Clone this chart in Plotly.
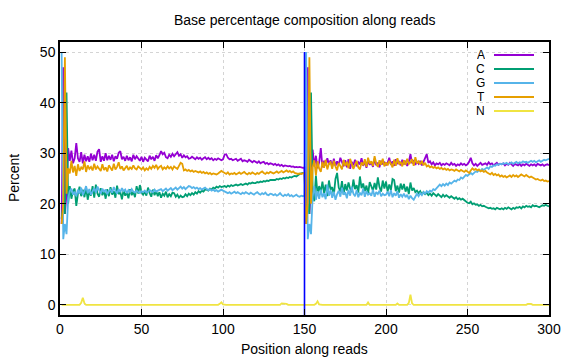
import plotly.graph_objects as go

# ---------------- data ----------------
POSITIONS = list(range(1, 301))

A_PCT = [
    16, 47, 18, 22, 31, 28.5, 30.5, 28, 29, 32,
    29, 28.3, 30.2, 28, 29.7, 28.4, 29.4, 28.3, 29.9, 28.6,
    29.7, 28.5, 30.3, 30.8, 28.3, 29.4, 28.5, 30, 28.6, 29.5,
    28.7, 29.7, 28.4, 29.4, 28.9, 30.1, 30.4, 28.8, 29.3, 28.5,
    29.5, 28.6, 29.2, 28.4, 29.7, 28.8, 29.4, 28.9, 28.5, 29.3,
    28.3, 29.1, 28.7, 28.4, 29.5, 28.8, 29.3, 28.5, 29.6, 29,
    29.6, 30.4, 29.8, 30.1, 29.2, 29, 29.7, 29.3, 29.9, 29.4,
    29.8, 30.2, 29.5, 29.8, 29.1, 29.6, 29.2, 29.4, 28.9, 29,
    29.3, 29, 28.8, 29.2, 28.9, 29.1, 28.7, 29, 29.2, 28.8,
    29.1, 28.8, 29, 28.6, 28.9, 28.7, 29, 28.8, 28.6, 28.8,
    29.7, 29.8, 29.1, 28.8, 28.9, 28.6, 28.7, 28.9, 28.5, 28.7,
    28.9, 28.4, 28.6, 28.5, 28.3, 28.7, 28.4, 28.2, 28.5, 28.3,
    28.1, 28.4, 28, 28.2, 28.3, 27.9, 28.1, 27.8, 28, 27.9,
    27.7, 27.9, 27.6, 27.8, 27.5, 27.7, 27.4, 27.6, 27.5, 27.4,
    27.5, 27.3, 27.4, 27.2, 27.3, 27.2, 27.3, 27.2, 27.1, 27.2,
    16, 47, 18, 24, 30.7, 27.4, 29.5, 27, 28.2, 31,
    27.2, 28.5, 27.6, 29, 27.8, 28.6, 27.3, 28.9, 27.5, 28.4,
    27.7, 29.1, 28, 27.4, 28.6, 27.2, 28.8, 26.9, 28.3, 27.6,
    28.7, 27.4, 28.2, 27.8, 29, 27.5, 28.4, 27.1, 28.6, 27.7,
    28.2, 27.3, 28.9, 27.6, 28.1, 27.2, 28.5, 27.8, 28.3, 27.6,
    28.1, 29.1, 27.7, 28.4, 27.5, 28.8, 27.9, 28.3, 27.6, 28.7,
    27.8, 28.5, 27.5, 28.3, 29.8, 28, 28.6, 27.7, 28.4, 27.9,
    28.5, 27.6, 28.3, 28.9, 29.8, 28.1, 28.4, 27.8, 28.2, 27.6,
    28, 27.8, 28.1, 27.6, 27.9, 27.7, 28, 27.8, 27.6, 28.1,
    27.7, 27.9, 27.5, 27.8, 27.6, 28, 27.7, 27.9, 27.6, 27.8,
    28.3, 29.1, 28, 27.6, 27.9, 27.5, 27.8, 28.1, 27.7, 27.9,
    28, 27.7, 28.2, 27.8, 28, 27.6, 27.9, 28.1, 27.7, 27.9,
    27.8, 28, 27.6, 27.9, 27.7, 28.1, 27.8, 27.5, 27.9, 27.7,
    27.6, 27.9, 27.5, 27.8, 27.6, 27.9, 27.7, 27.5, 27.8, 27.6,
    27.8, 27.5, 27.9, 27.7, 27.6, 27.8, 27.5, 27.7, 27.8, 27.6,
]

C_PCT = [
    17, 20, 18, 42, 20, 23.5, 21, 22.5, 23, 19.6,
    22, 23.4, 21.5, 22.8, 21.3, 23.2, 20.8, 22.4, 21.6, 23.5,
    21.2, 23.8, 22, 21.4, 23.1, 21.7, 22.6, 21, 22.9, 21.5,
    23.3, 21.8, 22.5, 21.2, 23.6, 21.9, 22.3, 20.9, 22.7, 21.6,
    22.2, 21.1, 22.9, 21.7, 22.4, 21.3, 23.5, 22, 23.7, 22.3,
    21.8, 22.4, 21.6, 23.2, 22.1, 21.4, 22.8, 21.7, 22.5, 21.5,
    22.3, 21.2, 22, 21.6, 22.4, 21.3, 21.9, 21.5, 22.2, 22.1,
    21.4, 21.8, 21.2, 21.6, 21.3, 21.4, 21.9, 21.5, 22, 21.7,
    22.1, 21.8, 22.3, 22, 22.5, 22.2, 22.6, 22.4, 22.8, 22.8,
    22.6, 23, 22.8, 23.2, 23, 23.4, 23.2, 23.5, 23.3, 23.4,
    23.5, 23.3, 23.6, 23.4, 23.7, 23.5, 23.6, 23.8, 23.6, 23.7,
    23.9, 23.7, 23.9, 24, 23.8, 24.1, 24, 24.2, 24.1, 24.1,
    24.3, 24.2, 24.4, 24.3, 24.5, 24.4, 24.6, 24.5, 24.7, 24.7,
    24.8, 24.7, 24.9, 24.8, 25, 24.9, 25.1, 25, 25.2, 25.1,
    25.3, 25.2, 25.4, 25.5, 25.4, 25.7, 25.9, 26, 26.1, 26,
    17, 20, 18, 42, 22.7, 20.5, 25.6, 21.9, 23.5, 22.3,
    24.4, 22.1, 23.8, 21.5, 24.6, 22.8, 23.3, 21.7, 24.9, 26.1,
    23.2, 22.4, 24.5, 21.8, 23.9, 22.6, 24.2, 23, 22.3, 24.8,
    22.9, 23.7, 22.2, 25.4, 23.1, 24, 22.5, 23.6, 21.9, 24.3,
    23.4, 22.6, 24.1, 22.8, 25.2, 23.3, 22.4, 24.6, 23, 24.4,
    22.4, 23.8, 22.7, 24.9, 24.7, 22.5, 23.6, 22.2, 24, 22.8,
    23.9, 22.4, 23.4, 21.9, 24.2, 22.6, 23.1, 22.3, 22.6, 22.1,
    22.5, 21.8, 22.3, 21.9, 22.2, 21.7, 22, 21.6, 22.1, 21.8,
    21.5, 21.9, 21.6, 21.3, 21.8, 21.4, 21.7, 21.4, 21.2, 21.5,
    21.2, 21, 21.3, 20.9, 21.1, 20.8, 21, 20.7, 20.6, 20.2,
    20.1, 20.4, 19.9, 20.1, 19.8, 19.9, 19.6, 19.8, 19.5, 19.6,
    19.4, 19.3, 19.1, 19.2, 19, 19.1, 18.9, 19.2, 19, 18.9,
    19.1, 18.9, 19.2, 19, 19.3, 19.1, 18.9, 19.2, 19, 19.3,
    19.2, 19.4, 19.1, 19.5, 19.3, 19.6, 19.4, 19.5, 19.3, 19.7,
    19.5, 19.6, 19.4, 19.3, 19.5, 19.7, 19.6, 19.8, 19.6, 19.5,
]

G_PCT = [
    50, 13, 16, 14, 21, 22.5, 23, 21.8, 22.4, 21.5,
    22.8, 22, 23.2, 21.7, 22.5, 23.5, 22.1, 22.9, 21.8, 22.6,
    23.1, 22.2, 23.4, 22.7, 22, 23, 22.4, 22.8, 21.9, 22.5,
    22.8, 22.2, 23.3, 22.6, 22, 22.9, 22.3, 23.1, 22.5, 22.8,
    22.1, 22.7, 22.3, 22.9, 22.4, 22.2, 22.6, 22.3, 22.1, 22.5,
    22.3, 22.6, 22.2, 22.4, 22.7, 22.5, 22.3, 22.8, 22.4, 22.6,
    22.7, 22.9, 22.5, 22.8, 23, 22.6, 22.9, 23.1, 22.7, 23,
    23.2, 22.8, 23.1, 23.4, 23, 23.3, 22.9, 23.2, 23.5, 23.4,
    23.1, 23.3, 23, 23.2, 22.9, 23.1, 22.8, 23, 23.2, 22.9,
    22.7, 22.9, 22.6, 22.8, 22.5, 22.7, 22.4, 22.6, 22.8, 22.6,
    22.4, 22.2, 22.1, 22.3, 22, 22.2, 22.4, 22.1, 22.3, 22.1,
    21.9, 22.2, 22, 22.3, 22.1, 21.9, 22.2, 22, 21.8, 22.1,
    22.3, 22, 21.8, 22.1, 21.9, 22.2, 21.8, 21.7, 22, 21.9,
    21.7, 21.9, 21.6, 21.8, 22.1, 21.7, 21.5, 21.8, 21.6, 21.9,
    21.5, 21.7, 21.4, 21.6, 21.8, 21.5, 21.4, 21.6, 21.5, 21.6,
    50, 13, 16, 14, 21.4, 23.5, 20.8, 22.5, 21, 22.8,
    21.3, 22.1, 20.9, 23.8, 21.6, 22.7, 21.2, 22.4, 20.8, 21.9,
    22.6, 21.4, 23.2, 21.8, 22.3, 21.1, 22.8, 21.6, 23.4, 22,
    21.5, 22.7, 21.3, 22.2, 21.7, 23, 21.4, 22.5, 21.8, 22.1,
    21.6, 22.8, 21.4, 22.3, 21.9, 22.6, 21.5, 22, 21.7, 21.8,
    22.4, 21.5, 22.7, 21.3, 22.1, 21.6, 22.5, 21.2, 21.9, 21.4,
    22, 21.3, 21.8, 20.9, 21.6, 21.1, 20.8, 21.4, 22, 21.5,
    22.1, 21.7, 22.3, 22, 22.5, 22.2, 22.6, 22.4, 22.9, 22.7,
    23.1, 23.4, 23.8, 23.5, 23.9, 23.6, 24, 23.7, 24.2, 24,
    24.3, 24.6, 24.4, 24.8, 24.7, 25.2, 25, 25.4, 25.7, 25.5,
    25.9, 26.1, 25.8, 26.2, 26.4, 26.3, 26.6, 26.5, 26.9, 26.7,
    27, 27.2, 26.9, 27.4, 27.3, 27.6, 27.5, 27.8, 27.7, 27.9,
    27.8, 28, 27.9, 28.1, 27.8, 28, 28.2, 27.9, 28.1, 28.3,
    28, 28.2, 28.1, 28.4, 28.2, 28.3, 28.1, 28.4, 28.5, 28.3,
    28.5, 28.2, 28.4, 28.6, 28.3, 28.5, 28.7, 28.6, 28.8, 28.9,
]

T_PCT = [
    16, 20, 49, 22, 27, 26, 28.5, 26.2, 27.5, 25.5,
    27.8, 26.5, 27.2, 26.8, 28.4, 26.3, 27.6, 26.9, 27.3, 26.6,
    27.9, 26.8, 27.4, 27, 26.5, 27.8, 26.7, 27.2, 26.4, 27.6,
    27, 26.6, 27.9, 26.8, 27.3, 28.2, 26.9, 27.4, 26.6, 27.1,
    27.5, 26.7, 27.2, 26.9, 27.6, 27, 26.8, 27.4, 27.1, 26.8,
    27.2, 26.6, 27, 26.7, 27.3, 26.9, 27.5, 27.1, 27.7, 26.9,
    27.3, 27.5, 26.8, 27.2, 26.9, 27.4, 27, 27.3, 26.8, 27.4,
    27.1, 26.9, 27.5, 28.1, 27.9, 26.6, 26.8, 26.5, 26.7, 26.4,
    26.6, 26.3, 26.5, 26.4, 26.2, 26.4, 26.1, 26.3, 26, 26.2,
    25.9, 26.1, 25.8, 26, 25.9, 25.8, 26, 26.2, 26.5, 26.3,
    26.1, 25.9, 26.2, 25.8, 26, 25.9, 26.1, 25.8, 26, 26.2,
    25.9, 26.1, 26.3, 26, 25.8, 26.1, 25.9, 26.2, 26, 25.8,
    26.1, 25.9, 26.2, 26.4, 26.1, 25.9, 26.2, 26, 26.3, 26.1,
    26, 26.2, 26.4, 26.1, 26.3, 26.5, 26.2, 26.4, 26.6, 26.3,
    26.5, 26.2, 26.4, 26.1, 26, 25.9, 26, 25.9, 26, 26.1,
    16, 20, 49, 20, 27.2, 28.6, 25.6, 28.4, 27, 26.3,
    28.3, 27.1, 28.7, 26.8, 27.9, 28.2, 26.9, 28.5, 27.4, 26.6,
    28.1, 27.3, 26.8, 28.7, 27.5, 28.3, 27, 28.9, 27.6, 26.9,
    27.7, 28.5, 27.2, 26.8, 28.2, 27.6, 28.8, 27.3, 29.1, 27.9,
    28.4, 27.5, 29.4, 28, 27.3, 28.6, 27.7, 28.9, 27.4, 28.2,
    27.6, 28.5, 27.9, 27.2, 28.7, 27.5, 29, 27.8, 28.3, 27.4,
    28.6, 27.7, 28.9, 27.9, 28.2, 28.8, 27.5, 29.2, 28, 28.4,
    27.8, 28.5, 27.6, 28.1, 27.4, 27.6, 27.2, 27.4, 27.1, 27.3,
    27, 27.2, 26.9, 27.1, 26.8, 27, 26.7, 26.9, 26.6, 26.8,
    26.7, 26.5, 26.8, 26.6, 26.4, 26.7, 26.5, 26.3, 26.6, 26.4,
    26.1, 26.6, 27, 26.7, 26.9, 26.6, 26.8, 26.4, 26.6, 26.3,
    26.5, 26.2, 26, 25.8, 26.1, 25.7, 25.9, 25.6, 25.8, 25.4,
    25.6, 25.3, 25.5, 25.2, 25.4, 25.6, 25.3, 25.7, 25.4, 25.6,
    25.3, 25.5, 25.8, 25.6, 25.4, 25.7, 25.5, 25.2, 25.4, 25.1,
    25, 24.8, 24.9, 24.7, 24.6, 24.8, 24.5, 24.6, 24.4, 24.5,
]

N_PCT = [
    0, 0, 0, 0, 0, 0, 0, 0, 0, 0,
    0, 0, 0.4, 1.4, 0.3, 0, 0, 0, 0, 0,
    0, 0, 0, 0, 0, 0, 0, 0, 0, 0,
    0, 0, 0, 0, 0, 0, 0, 0, 0, 0,
    0, 0, 0, 0, 0, 0, 0, 0, 0, 0,
    0, 0, 0, 0, 0, 0, 0, 0, 0, 0,
    0, 0, 0, 0, 0, 0, 0, 0, 0, 0,
    0, 0, 0, 0, 0, 0, 0, 0, 0, 0,
    0, 0, 0, 0, 0, 0, 0, 0, 0, 0,
    0, 0, 0, 0, 0, 0, 0, 0.2, 0.5, 0.1,
    0, 0, 0, 0, 0, 0, 0, 0, 0, 0,
    0, 0, 0, 0, 0, 0, 0, 0, 0, 0,
    0, 0, 0, 0, 0, 0, 0, 0, 0, 0,
    0, 0, 0, 0, 0, 0.3, 0.3, 0.3, 0.2, 0,
    0, 0, 0, 0, 0, 0, 0, 0, 0, 0,
    0, 0, 0, 0, 0, 0, 0.2, 0.7, 0.1, 0,
    0, 0, 0, 0, 0, 0, 0, 0, 0, 0,
    0, 0, 0, 0, 0, 0, 0, 0, 0, 0,
    0, 0, 0, 0, 0, 0, 0, 0, 0.5, 0,
    0, 0, 0, 0, 0, 0, 0, 0, 0, 0,
    0, 0, 0, 0, 0, 0, 0.3, 0, 0, 0,
    0, 0, 0, 0.4, 2.0, 0.3, 0, 0, 0, 0,
    0, 0, 0, 0, 0, 0, 0, 0, 0, 0,
    0, 0, 0, 0, 0, 0, 0, 0, 0, 0,
    0, 0, 0, 0, 0, 0, 0, 0, 0, 0,
    0, 0, 0, 0, 0, 0, 0, 0, 0, 0,
    0, 0, 0, 0, 0, 0, 0, 0, 0, 0,
    0, 0, 0, 0, 0, 0, 0, 0, 0, 0,
    0, 0, 0, 0, 0, 0, 0.2, 0.2, 0.2, 0,
    0, 0, 0, 0, 0, 0, 0, 0, 0, 0,
]

SERIES_NAMES = ["A", "C", "G", "T", "N"]
READ_BOUNDARY = 150          # end of read 1
BOUNDARY_TOP = 50
X_RANGE = [0, 300]
Y_RANGE = [-2, 52]
X_TICKS = [0, 50, 100, 150, 200, 250, 300]
Y_TICKS = [0, 10, 20, 30, 40, 50]

TITLE = "Base percentage composition along reads"
X_LABEL = "Position along reads"
Y_LABEL = "Percent"

# ---------------- styling ----------------
COLORS = ["#9400d3", "#009e73", "#56b4e9", "#e69f00", "#f0e442"]
FONT = "Liberation Sans, Arial, sans-serif"
FS = 14
LEGEND_FS = 12
W, H = 576, 360
ML, MR, MT, MB = 60, 27, 42, 45
PW, PH = W - ML - MR, H - MT - MB

def px_to_paper_x(px):
    return (px - ML) / PW

def py_to_paper_y(py):
    return (H - MB - py) / PH

series_values = [A_PCT, C_PCT, G_PCT, T_PCT, N_PCT]

fig = go.Figure()
for name, vals, col in zip(SERIES_NAMES, series_values, COLORS):
    fig.add_trace(go.Scatter(
        x=POSITIONS, y=vals, mode="lines", name=name,
        line=dict(color=col, width=1.8), showlegend=False,
        hoverinfo="skip",
    ))

# read boundary marker
fig.add_trace(go.Scatter(
    x=[READ_BOUNDARY, READ_BOUNDARY], y=[Y_RANGE[0], BOUNDARY_TOP],
    mode="lines", line=dict(color="#0000ff", width=1.6),
    showlegend=False, hoverinfo="skip",
))

axis_common = dict(
    showline=True, linecolor="black", linewidth=1.5, mirror="ticks",
    ticks="inside", ticklen=6, tickwidth=1, tickcolor="black",
    showgrid=True, gridcolor="#d4d4d4", griddash="dot", gridwidth=1,
    zeroline=False, tickfont=dict(family=FONT, size=FS, color="black"),
)

fig.update_xaxes(range=X_RANGE, tickvals=X_TICKS, **axis_common)
fig.update_yaxes(range=Y_RANGE, tickvals=Y_TICKS, **axis_common)

annotations = [
    dict(text=TITLE, xref="paper", yref="paper",
         x=0.5, y=py_to_paper_y(20), xanchor="center", yanchor="middle",
         showarrow=False, font=dict(family=FONT, size=FS, color="black")),
    dict(text=X_LABEL, xref="paper", yref="paper",
         x=0.5, y=py_to_paper_y(349), xanchor="center", yanchor="middle",
         showarrow=False, font=dict(family=FONT, size=FS, color="black")),
    dict(text=Y_LABEL, xref="paper", yref="paper", textangle=-90,
         x=px_to_paper_x(14), y=py_to_paper_y(178), xanchor="center", yanchor="middle",
         showarrow=False, font=dict(family=FONT, size=FS, color="black")),
]

shapes = []
legend_rows_py = [55, 69, 83, 97, 111]
for name, col, py in zip(SERIES_NAMES, COLORS, legend_rows_py):
    annotations.append(dict(
        text=name, xref="paper", yref="paper",
        x=px_to_paper_x(486), y=py_to_paper_y(py), xanchor="right", yanchor="middle",
        height=12, valign="middle", borderpad=0,
        showarrow=False, font=dict(family=FONT, size=LEGEND_FS, color="black")))
    shapes.append(dict(
        type="line", xref="paper", yref="paper",
        x0=px_to_paper_x(494), x1=px_to_paper_x(534),
        y0=py_to_paper_y(py), y1=py_to_paper_y(py),
        line=dict(color=col, width=1.8)))

fig.update_layout(
    width=W, height=H,
    margin=dict(l=ML, r=MR, t=MT, b=MB, pad=0),
    paper_bgcolor="white", plot_bgcolor="white",
    annotations=annotations, shapes=shapes,
    font=dict(family=FONT, size=FS, color="black"),
)

fig.write_html("out.html")
